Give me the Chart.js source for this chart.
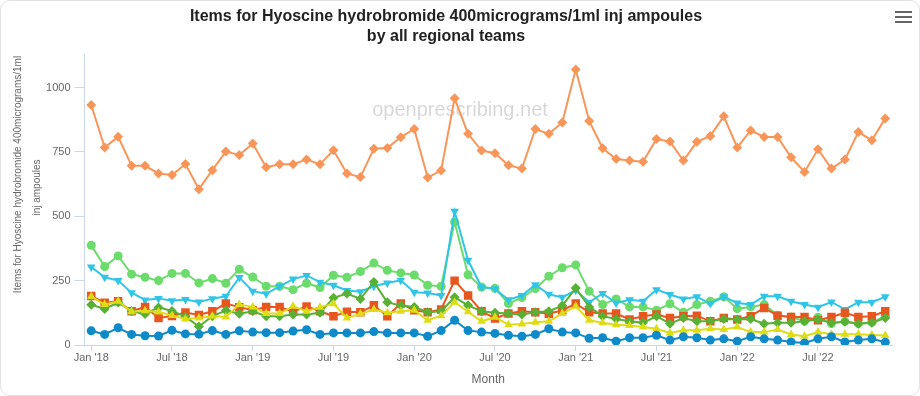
<!DOCTYPE html>
<html>
<head>
<meta charset="utf-8">
<script src="https://cdn.jsdelivr.net/npm/chart.js@4"></script>
<style>
  html, body { margin: 0; padding: 0; background: #fff; }
  #wrap { position: relative; width: 920px; height: 396px; }
  #frame { position: absolute; left: 0; top: 0; width: 920px; height: 396px; box-sizing: border-box;
           border: 1px solid #e2e2e2; border-radius: 10px; pointer-events: none; }
  .bar { position: absolute; left: 895px; width: 17px; height: 2.5px; background: #666; }
</style>
</head>
<body>
<div id="wrap">
  <canvas id="grafico" width="920" height="396"></canvas>
  <div class="bar" style="top:10.5px"></div>
  <div class="bar" style="top:15.5px"></div>
  <div class="bar" style="top:20.5px"></div>
  <div id="frame"></div>
</div>
<script>
// Meses (jan 2018 - dez 2022)
const meses = [
  '2018-01','2018-02','2018-03','2018-04','2018-05','2018-06','2018-07','2018-08','2018-09','2018-10','2018-11','2018-12',
  '2019-01','2019-02','2019-03','2019-04','2019-05','2019-06','2019-07','2019-08','2019-09','2019-10','2019-11','2019-12',
  '2020-01','2020-02','2020-03','2020-04','2020-05','2020-06','2020-07','2020-08','2020-09','2020-10','2020-11','2020-12',
  '2021-01','2021-02','2021-03','2021-04','2021-05','2021-06','2021-07','2021-08','2021-09','2021-10','2021-11','2021-12',
  '2022-01','2022-02','2022-03','2022-04','2022-05','2022-06','2022-07','2022-08','2022-09','2022-10','2022-11','2022-12'
];
const nomesMes = { '01': 'Jan', '07': 'Jul' };
const yTicks = [0, 250, 500, 750, 1000];
const tituloY = ['Items for Hyoscine hydrobromide 400micrograms/1ml', 'inj ampoules'];

// Valores por equipe regional
const equipeLaranja = [932,767,809,696,696,666,660,703,605,679,751,738,
  782,690,702,702,720,702,756,666,652,762,765,807,
  839,650,678,958,820,755,745,698,685,839,820,864,
  1070,870,764,722,716,712,800,790,716,789,812,888,
  767,833,808,808,729,672,760,685,720,827,795,880];
const equipeVerdeClaro = [387,305,346,275,263,250,278,278,241,258,240,294,
  264,228,228,215,240,223,271,263,285,318,290,280,
  272,232,228,478,273,225,220,161,184,219,267,300,
  311,209,157,179,148,148,135,160,127,157,170,187,
  141,148,157,116,109,92,108,83,92,83,88,112];
const equipeCiano = [303,263,250,203,175,181,172,177,167,180,189,262,
  209,199,228,256,270,244,232,212,207,228,241,251,
  205,202,192,519,329,225,218,176,192,234,197,185,
  213,166,200,163,176,170,215,196,179,187,161,187,
  163,157,189,189,170,157,147,167,138,166,166,187];
const equipeVermelha = [190,164,170,131,148,105,113,126,117,131,161,147,
  135,148,148,129,150,131,112,129,127,154,112,161,
  135,127,138,250,192,131,103,122,131,127,121,135,
  161,127,122,122,99,112,118,105,112,114,92,105,
  99,112,144,114,109,109,96,109,125,109,112,131];
const equipeVerdeEscuro = [156,140,165,131,120,146,132,110,72,112,134,121,
  131,112,112,118,118,125,183,200,179,245,166,153,
  148,127,131,185,154,131,125,122,118,127,131,153,
  221,148,112,101,92,86,112,83,105,92,92,101,
  99,101,83,86,86,92,99,86,90,83,86,105];
const equipeAmarela = [188,157,170,129,133,128,115,101,105,112,109,157,
  148,122,122,150,131,147,160,105,121,138,125,131,
  135,96,114,166,129,92,108,79,82,88,92,122,
  150,96,86,79,76,70,63,47,57,57,63,60,
  70,50,50,60,41,34,50,42,42,42,39,37];
const equipeAzul = [55,41,67,41,36,35,57,43,42,56,41,55,
  50,48,48,54,59,41,47,47,47,52,47,47,
  47,34,56,96,56,50,45,38,34,41,63,50,
  47,26,28,15,28,28,38,19,32,28,19,24,
  15,32,24,19,12,8,24,32,12,19,24,11];

const fonte = "'Liberation Sans', Arial, Helvetica, sans-serif";
const corEixo = '#ccd6eb';

function serie(label, data, cor, estilo, raio, rotacao) {
  return {
    label: label,
    data: data,
    borderColor: cor,
    backgroundColor: cor,
    borderWidth: 2,
    pointStyle: estilo,
    pointRadius: raio,
    pointRotation: rotacao || 0,
    pointBorderWidth: 0,
    pointBackgroundColor: cor,
    tension: 0,
    fill: false
  };
}

// Marca d'água e título do eixo Y (duas linhas, como no original)
const textosExtras = {
  id: 'textosExtras',
  beforeDatasetsDraw(chart) {
    const c = chart.ctx;
    c.save();
    c.font = '20px ' + fonte;
    c.fillStyle = 'rgba(0,0,0,0.16)';
    c.textAlign = 'center';
    c.textBaseline = 'middle';
    c.fillText('openprescribing.net', 460, 110);
    c.restore();
  },
  afterDraw(chart) {
    const c = chart.ctx;
    const meio = (chart.chartArea.top + chart.chartArea.bottom) / 2;
    c.save();
    c.font = '10px ' + fonte;
    c.fillStyle = '#666';
    c.textAlign = 'center';
    c.textBaseline = 'middle';
    c.translate(18.5, meio - 25);
    c.rotate(-Math.PI / 2);
    c.fillText(tituloY[0], 0, 0);
    c.fillText(tituloY[1], -13, 18.5);
    c.restore();
  }
};

const ctx = document.getElementById('grafico').getContext('2d');
const grafico = new Chart(ctx, {
  type: 'line',
  plugins: [textosExtras],
  data: {
    labels: meses,
    datasets: [
      serie('Equipe 1', equipeAzul, '#0e8ac8', 'circle', 4.5),
      serie('Equipe 2', equipeAmarela, '#dedc14', 'triangle', 5),
      serie('Equipe 3', equipeVerdeEscuro, '#58b034', 'rectRot', 5),
      serie('Equipe 4', equipeVermelha, '#e8561f', 'rect', 6),
      serie('Equipe 5', equipeCiano, '#30c5e6', 'triangle', 5, 180),
      serie('Equipe 6', equipeVerdeClaro, '#6bdc6b', 'circle', 4.5),
      serie('Equipe 7', equipeLaranja, '#f8965a', 'rectRot', 5)
    ]
  },
  options: {
    responsive: false,
    animation: false,
    layout: { padding: { left: 0, right: 28, top: 0, bottom: 0 } },
    plugins: {
      legend: { display: false },
      tooltip: { enabled: false },
      title: {
        display: true,
        text: ['Items for Hyoscine hydrobromide 400micrograms/1ml inj ampoules', 'by all regional teams'],
        color: '#222',
        font: { family: fonte, size: 16, weight: 'bold', lineHeight: 1.2 },
        padding: { top: 7.4, bottom: 8.2 }
      }
    },
    scales: {
      x: {
        type: 'category',
        offset: true,
        grid: {
          offset: false,
          drawOnChartArea: false,
          drawTicks: true,
          tickLength: 6,
          color: (c) => (c.index % 6 === 0 ? corEixo : 'rgba(0,0,0,0)')
        },
        border: { display: true, color: corEixo },
        ticks: {
          autoSkip: false,
          maxRotation: 0,
          padding: 0,
          color: '#666',
          font: { family: fonte, size: 11 },
          callback: function (val, idx) {
            const partes = meses[idx].split('-');
            const nome = nomesMes[partes[1]];
            return nome ? nome + " '" + partes[0].slice(2) : '';
          }
        },
        title: {
          display: true,
          text: 'Month',
          color: '#666',
          font: { family: fonte, size: 12 },
          padding: { top: 0, bottom: 9 }
        },
        afterFit: (s) => { s.height = 51; }
      },
      y: {
        min: 0,
        max: 1130,
        grid: {
          drawOnChartArea: false,
          drawTicks: true,
          tickLength: 10,
          color: (c) => (c.tick && yTicks.includes(c.tick.value) ? corEixo : 'rgba(0,0,0,0)')
        },
        border: { display: true, color: corEixo },
        ticks: {
          stepSize: 250,
          padding: 4,
          color: '#666',
          font: { family: fonte, size: 11 },
          callback: (v) => (yTicks.includes(v) ? v : '')
        },
        title: { display: false },
        afterFit: (s) => { s.width = 84.5; }
      }
    }
  }
});
</script>
</body>
</html>
